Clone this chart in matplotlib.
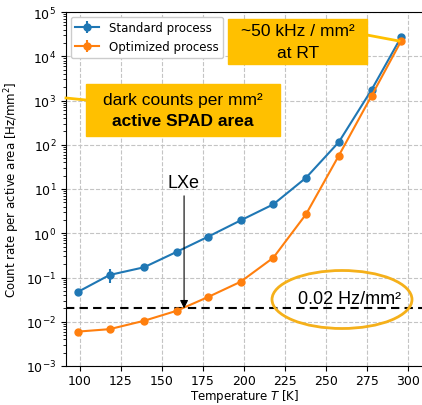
import matplotlib
matplotlib.use("Agg")
import matplotlib.pyplot as plt
import numpy as np
from matplotlib.patches import Ellipse

temps_std = [99, 118, 139, 159, 178, 198, 218, 238, 258, 278, 296]
rate_std = [0.048, 0.114, 0.17, 0.38, 0.83, 1.95, 4.5, 18, 115, 1750, 27000]
err_std = [0.004, 0.04, 0.015, 0.03, 0.05, 0.1, 0.3, 1.0, 6, 100, 1500]

temps_opt = [99, 118, 139, 159, 178, 198, 218, 238, 258, 278, 296]
rate_opt = [0.006, 0.0068, 0.0105, 0.0177, 0.036, 0.08, 0.28, 2.7, 57, 1280, 22000]
err_opt = [0.0004, 0.0004, 0.0006, 0.001, 0.002, 0.004, 0.015, 0.15, 3, 70, 1200]

threshold = 0.02
lxe_temp = 163.5

x_ticks = [100, 125, 150, 175, 200, 225, 250, 275, 300]

fig = plt.figure(figsize=(4.22, 4.06), dpi=100)
ax = fig.add_axes([66/422, 39/406, 358/422, 354/406])

ax.errorbar(temps_std, rate_std, yerr=err_std, color="#1f77b4", marker="o",
            ms=5, lw=1.5, label="Standard process")
ax.errorbar(temps_opt, rate_opt, yerr=err_opt, color="#ff7f0e", marker="o",
            ms=5, lw=1.5, label="Optimized process")

ax.set_yscale("log")
ax.set_ylim(1e-3, 1e5)
ax.set_xlim(91.4, 310)
ax.set_xticks(x_ticks)
ax.grid(True, which="major", linestyle="--", color="#c4c4c4", lw=0.8)
ax.tick_params(labelsize=9)
ax.tick_params(axis="x", pad=2)
ax.spines["right"].set_visible(False)
ax.set_xlabel("Temperature $T$ [K]", fontsize=8.5, labelpad=0)
ax.set_ylabel("Count rate per active area [Hz/mm$^2$]", fontsize=8.5, labelpad=3)

ax.axhline(threshold, color="black", ls="--", lw=1.5, dashes=(4, 2.5))

leg = ax.legend(loc="upper left", fontsize=8.5, framealpha=1, edgecolor="#cccccc",
                fancybox=True, borderaxespad=0.4)

# LXe arrow
ax.annotate("", xy=(lxe_temp, threshold), xytext=(lxe_temp, 7),
            arrowprops=dict(arrowstyle="-|>", color="black", lw=0.8,
                            mutation_scale=12, shrinkA=0, shrinkB=0))
ax.text(lxe_temp - 0.5, 9, "LXe", ha="center", va="bottom", fontsize=13,
        family="Liberation Sans")

# ellipse around threshold label
ell = Ellipse((342/422, 1 - 300.5/406), 140/422, 58/406, transform=fig.transFigure,
              fill=False, edgecolor="#f5b01a", lw=2)
fig.add_artist(ell)
fig.text(350/422, 1 - 299/406, "0.02 Hz/mm²", ha="center", va="center", fontsize=13,
         family="Liberation Sans")

gold = "#ffc000"
# top right box
fig.add_artist(plt.Line2D([367/422, 399/422], [1 - 36/406, 1 - 42/406], color=gold, lw=2))
fig.patches.append(plt.Rectangle((228/422, 1 - 65/406), 139/422, 45/406,
                                 transform=fig.transFigure, color=gold))
fig.text(298/422, 1 - 32/406, "~50 kHz / mm²", ha="center", va="center", fontsize=12.5,
         family="Liberation Sans")
fig.text(298/422, 1 - 53/406, "at RT", ha="center", va="center", fontsize=12.5,
         family="Liberation Sans")

# left box
fig.add_artist(plt.Line2D([66/422, 86/422], [1 - 99/406, 1 - 101/406], color=gold, lw=2))
fig.patches.append(plt.Rectangle((86/422, 1 - 137/406), 194/422, 52/406,
                                 transform=fig.transFigure, color=gold))
fig.text(183/422, 1 - 101/406, "dark counts per mm²", ha="center", va="center",
         fontsize=12.5, family="Liberation Sans")
fig.text(183/422, 1 - 122/406, "active SPAD area", ha="center", va="center",
         fontsize=12.5, family="Liberation Sans", weight="bold")

fig.savefig("out.png", dpi=100)
